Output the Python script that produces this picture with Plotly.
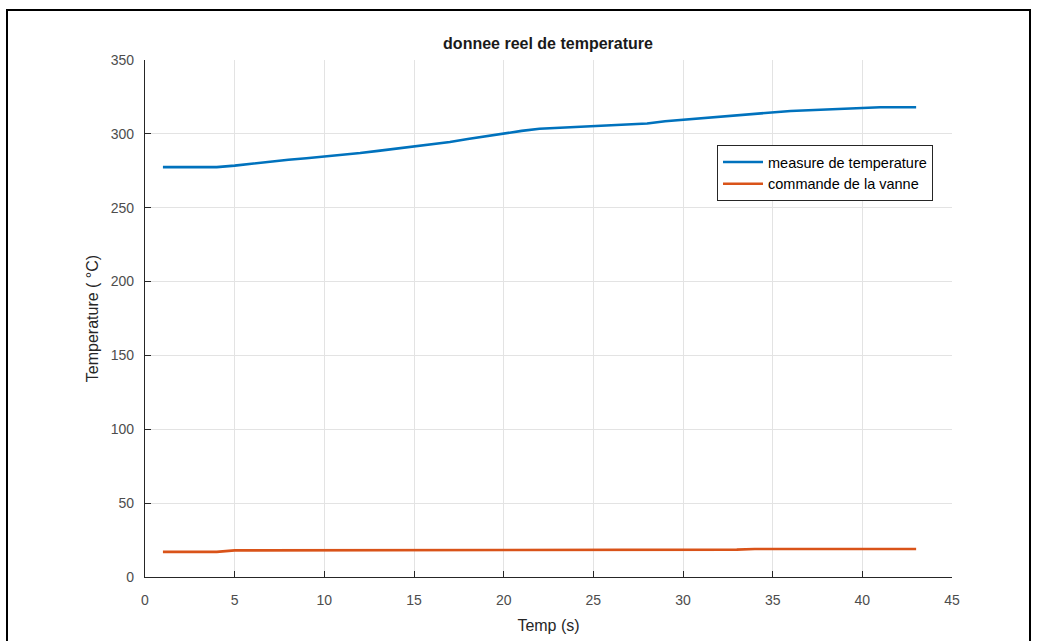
import plotly.graph_objects as go

temps = list(range(1, 44))
mesure_temperature = [277.5, 277.5, 277.5, 277.5, 278.5, 280, 281.5, 282.5, 283.5, 284.5,
                      286, 287, 288.5, 290, 291.5, 293, 294.5, 296.5, 298.5, 300.5,
                      302, 303.5, 304, 304.5, 305, 305.5, 306, 307, 308.5, 309.5,
                      310.5, 311.5, 313, 314, 315, 315.5, 316, 316.5, 317, 318,
                      318, 318, 318]
commande_vanne = [17, 17, 17, 17, 18, 18, 18, 18.5, 18.5, 18.5,
                  18.5, 18.5, 18.5, 18.5, 18.5, 18.5, 18.5, 18.5, 18.5, 18.5,
                  18.5, 18.5, 18.5, 18.5, 18.5, 18.5, 18.5, 18.5, 18.5, 18.5,
                  18.5, 18.5, 18.5, 19, 19, 19, 19, 19, 19, 19,
                  19, 19, 19]

x_ticks = [0, 5, 10, 15, 20, 25, 30, 35, 40, 45]
y_ticks = [0, 50, 100, 150, 200, 250, 300, 350]

FONT = "Liberation Sans, Arial, sans-serif"

fig = go.Figure()
fig.add_trace(go.Scatter(x=temps, y=mesure_temperature, mode="lines",
                         name="measure de temperature",
                         line=dict(color="#0072BD", width=2.6)))
fig.add_trace(go.Scatter(x=temps, y=commande_vanne, mode="lines",
                         name="commande de la vanne",
                         line=dict(color="#D95319", width=2.6)))

axis_common = dict(
    showgrid=True, gridcolor="#e3e3e3", gridwidth=1,
    showline=True, linecolor="#262626", linewidth=1.2, mirror=False,
    ticks="inside", ticklen=6, tickcolor="#262626", tickwidth=1.2,
    zeroline=False, automargin=False,
    tickfont=dict(family=FONT, size=14, color="#4d4d4d"),
)

fig.update_layout(
    width=1039, height=641,
    margin=dict(l=145, r=87, t=60, b=64),
    paper_bgcolor="white", plot_bgcolor="white",
    font=dict(family=FONT),
    title=dict(text="<b>donnee reel de temperature</b>", x=(548 - 145) / 807, xref="paper",
               xanchor="center", y=1 - 43 / 641, yanchor="middle",
               font=dict(family=FONT, size=16, color="#1a1a1a")),
    xaxis=dict(range=[0, 45], tickvals=x_ticks, ticklabelstandoff=10,
               title=dict(text="Temp (s)", standoff=12,
                          font=dict(family=FONT, size=16, color="#262626")),
               **axis_common),
    yaxis=dict(range=[0, 350], tickvals=y_ticks, ticklabelstandoff=7,
               title=dict(text="Temperature ( °C)", standoff=8,
                          font=dict(family=FONT, size=16, color="#262626")),
               **axis_common),
    legend=dict(x=(717 - 145) / 807, y=(577 - 145) / 517, xanchor="left", yanchor="top",
                bgcolor="white", bordercolor="#262626", borderwidth=1,
                font=dict(family=FONT, size=14.5, color="#000000"),
                itemwidth=40, tracegroupgap=0),
    showlegend=True,
    shapes=[dict(type="rect", xref="paper", yref="paper",
                 x0=(7 - 145) / 807, x1=(1030 - 145) / 807,
                 y0=(577 - 650) / 517, y1=(577 - 10) / 517,
                 line=dict(color="black", width=2), fillcolor="rgba(0,0,0,0)",
                 layer="below")],
)

fig.write_html("out.html")
